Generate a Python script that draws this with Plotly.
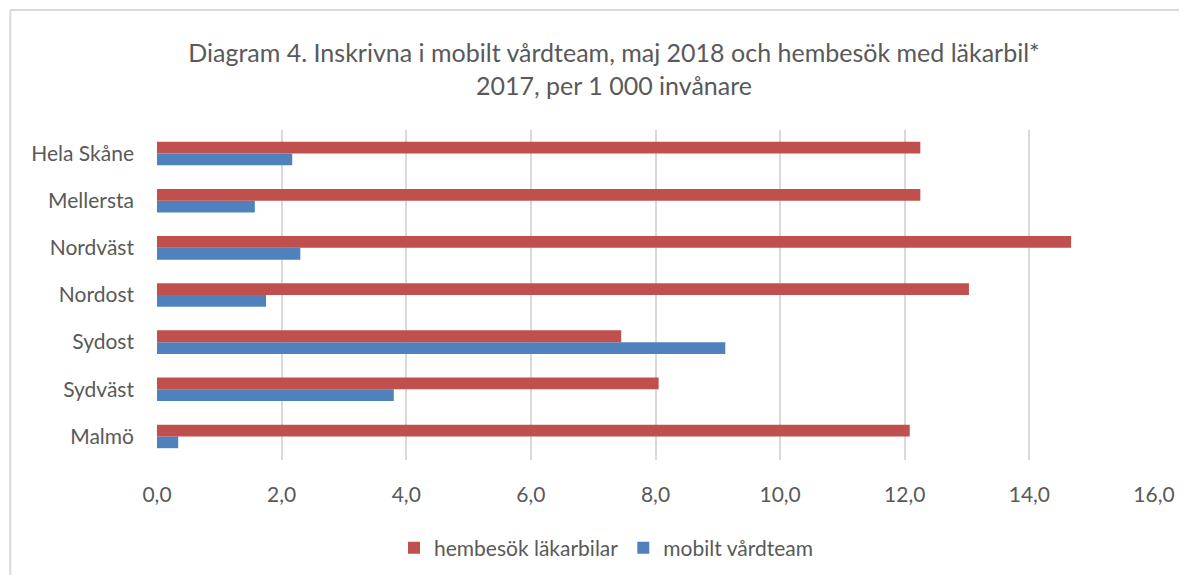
import plotly.graph_objects as go

categories = ["Malmö", "Sydväst", "Sydost", "Nordost", "Nordväst", "Mellersta", "Hela Skåne"]
hembesok = [12.08, 8.05, 7.45, 13.03, 14.67, 12.25, 12.25]
mobilt = [0.34, 3.80, 9.12, 1.75, 2.30, 1.57, 2.17]
series_names = ["hembesök läkarbilar", "mobilt vårdteam"]
colors = ["#C0504D", "#4F81BD"]
x_ticks = [0, 2, 4, 6, 8, 10, 12, 14, 16]

# page has an 8px body margin; figure coords = page coords - 8
W, H = 1179, 567
L, R, T, B = 149, 31, 122, 115
pw, ph = W - L - R, H - T - B

font_family = "Lato, 'Open Sans', sans-serif"
txt = "#595959"

fig = go.Figure()
fig.add_trace(go.Bar(y=categories, x=mobilt, orientation="h", name=series_names[1],
                     marker=dict(color=colors[1], line=dict(width=0))))
fig.add_trace(go.Bar(y=categories, x=hembesok, orientation="h", name=series_names[0],
                     marker=dict(color=colors[0], line=dict(width=0))))

# partial outer border (left and top edges)
bx, by = 2, 2
fig.add_shape(type="line", xref="paper", yref="paper",
              x0=(bx - L) / pw, x1=(bx - L) / pw, y0=(H - B - by) / ph, y1=-B / ph - 0.05,
              line=dict(color="#D9D9D9", width=2))
fig.add_shape(type="line", xref="paper", yref="paper",
              x0=(bx - L) / pw, x1=(W - L) / pw + 0.05, y0=(H - B - by) / ph, y1=(H - B - by) / ph,
              line=dict(color="#D9D9D9", width=2))

fig.update_layout(
    width=W, height=H,
    margin=dict(l=L, r=R, t=T, b=B),
    paper_bgcolor="white", plot_bgcolor="white",
    separators=",.",
    barmode="group", bargap=0.5, bargroupgap=0,
    font=dict(family=font_family, color=txt, size=21),
    title=dict(text="Diagram 4. Inskrivna i mobilt vårdteam, maj 2018 och hembesök med läkarbil*<br>2017, per 1 000 invånare",
               x=606 / W, xanchor="center", xref="container",
               y=1 - 54 / H, yanchor="middle", yref="container",
               font=dict(size=25, color=txt, family=font_family)),
    xaxis=dict(range=[0, 16], tickvals=x_ticks, tickformat=".1f",
               showgrid=True, gridcolor="#D9D9D9", gridwidth=2,
               zeroline=False, showline=False, ticks="",
               ticklabelstandoff=20, tickfont=dict(size=21, color=txt)),
    yaxis=dict(showgrid=False, zeroline=False, showline=False, ticks="",
               ticklabelstandoff=22, tickfont=dict(size=21, color=txt)),
    legend=dict(orientation="h", traceorder="reversed",
                x=598 / W, xanchor="center", xref="container",
                y=1 - 540 / H, yanchor="middle", yref="container",
                font=dict(size=21, color=txt), itemwidth=30),
    showlegend=True,
)

fig.write_html("out.html")
